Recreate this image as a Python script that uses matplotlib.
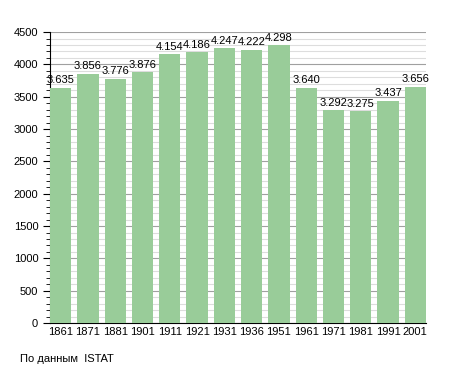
import matplotlib.pyplot as plt
from matplotlib.ticker import MultipleLocator

years = ['1861', '1871', '1881', '1901', '1911', '1921', '1931', '1936',
         '1951', '1961', '1971', '1981', '1991', '2001']
population = [3635, 3856, 3776, 3876, 4154, 4186, 4247, 4222,
              4298, 3640, 3292, 3275, 3437, 3656]
labels = ['3.635', '3.856', '3.776', '3.876', '4.154', '4.186', '4.247', '4.222',
          '4.298', '3.640', '3.292', '3.275', '3.437', '3.656']

plt.rcParams['font.family'] = ['Liberation Sans', 'DejaVu Sans']
fig = plt.figure(figsize=(4.55, 3.73), dpi=100)
ax = fig.add_axes([0.110, 0.134, 0.826, 0.780])

x = range(len(years))
ax.bar(x, population, width=0.78, color='#99cc99', zorder=3)
for i, v in enumerate(population):
    ax.text(i, v + 40, labels[i], ha='center', va='bottom', fontsize=8, zorder=4)

ax.set_ylim(0, 4500)
ax.set_xlim(-0.39, len(years) - 0.61)
ax.yaxis.set_major_locator(MultipleLocator(500))
ax.yaxis.set_minor_locator(MultipleLocator(100))
ax.grid(axis='y', which='major', color='#a0a0a0', linewidth=0.8, zorder=0)
ax.grid(axis='y', which='minor', color='#dddddd', linewidth=0.8, zorder=0)
ax.set_xticks(list(x))
ax.set_xticklabels(years)
ax.tick_params(axis='x', length=0, labelsize=8, pad=3)
ax.tick_params(axis='y', which='major', length=5, labelsize=8)
ax.tick_params(axis='y', which='minor', length=3)
for s in ['top', 'right']:
    ax.spines[s].set_visible(False)

fig.text(0.044, 0.03, 'По данным  ISTAT', fontsize=8)
fig.savefig('out.png', dpi=100)
